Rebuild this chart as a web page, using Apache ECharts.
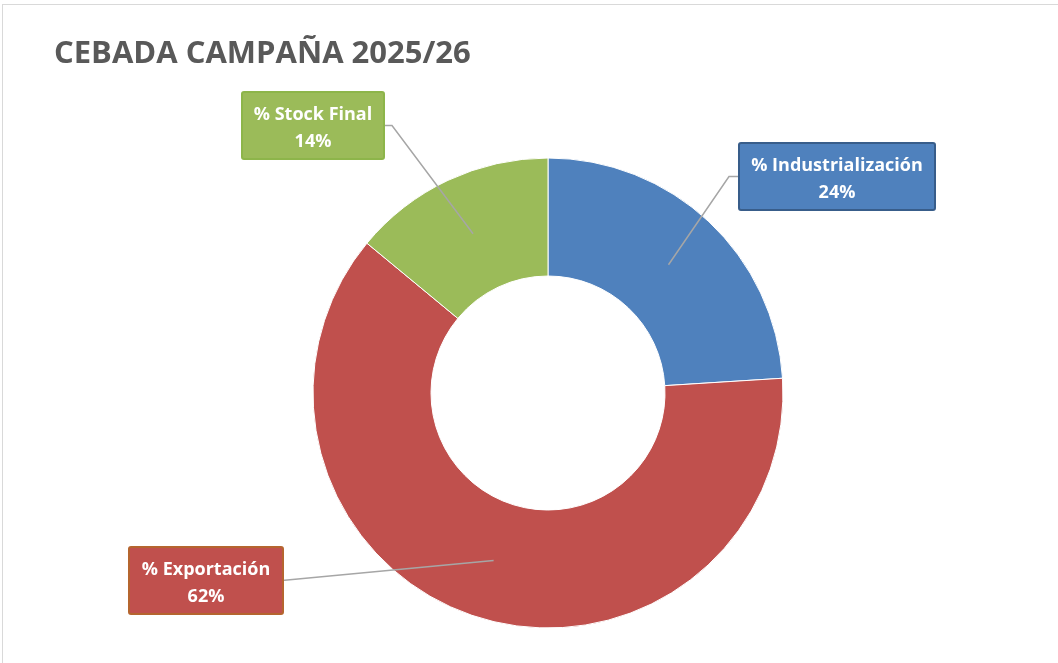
<!DOCTYPE html>
<html>
<head>
<meta charset="utf-8">
<script src="https://cdn.jsdelivr.net/npm/echarts@6/dist/echarts.min.js"></script>
<style>
html,body{margin:0;padding:0;background:#fff;}
#frame{position:absolute;left:2px;top:4px;width:1056px;height:659px;border-top:1px solid #D9D9D9;border-left:1px solid #D9D9D9;box-sizing:border-box;}
#chart{position:absolute;left:0;top:0;width:1058px;height:663px;}
</style>
</head>
<body>
<div id="frame"></div>
<div id="chart"></div>
<script>
const title = 'CEBADA CAMPAÑA 2025/26';
const categories = ['% Industrialización', '% Exportación', '% Stock Final'];
const values = [24, 62, 14];
const colors = ['#4F81BD', '#C0504D', '#9BBB59'];
const labelBorders = ['#385D8A', '#B5652F', '#8DB54A'];

// label box layout: [left, top, width(inner), side of connector]
const labelBoxes = [
  {x: 740, y: 144, w: 186, side: 'left'},
  {x: 130, y: 548, w: 144, side: 'right'},
  {x: 243, y: 93, w: 132, side: 'right'}
];
const BOX_H = 65;

const chart = echarts.init(document.getElementById('chart'));

const mainData = categories.map((c, i) => ({name: c, value: values[i], itemStyle: {color: colors[i]}}));
const labelData = categories.map((c, i) => ({
  name: c, value: values[i],
  label: {
    backgroundColor: colors[i],
    borderColor: labelBorders[i],
    width: labelBoxes[i].w
  }
}));

chart.setOption({
  animation: false,
  title: {
    text: title,
    left: 49, top: 34,
    textStyle: {fontFamily: 'Open Sans', fontWeight: 'bold', fontSize: 31, color: '#595959'}
  },
  series: [
    {
      type: 'pie',
      z: 1,
      center: [548, 393],
      radius: [117, 235],
      startAngle: 90,
      clockwise: true,
      silent: true,
      label: {show: false},
      labelLine: {show: false},
      itemStyle: {borderColor: '#fff', borderWidth: 1},
      data: mainData
    },
    {
      type: 'pie',
      z: 5,
      center: [548, 393],
      radius: [0, 176],
      startAngle: 90,
      clockwise: true,
      silent: true,
      itemStyle: {color: 'rgba(0,0,0,0)'},
      label: {
        show: true,
        position: 'outside',
        formatter: p => p.name + '\n' + p.value + '%',
        fontFamily: 'Open Sans',
        fontWeight: 'bold',
        fontSize: 18,
        lineHeight: 27,
        color: '#fff',
        align: 'center',
        borderWidth: 2,
        borderRadius: 1,
        padding: [8, 4, 3, 4]
      },
      labelLine: {show: true, length: 10, length2: 10, lineStyle: {color: '#A6A6A6', width: 1.5}},
      labelLayout: function (params) {
        const b = labelBoxes[params.dataIndex];
        const totalW = b.w + 8;
        const midY = b.y + BOX_H / 2;
        let edgeX, elbowX;
        if (b.side === 'left') { edgeX = b.x; elbowX = b.x - 11; }
        else { edgeX = b.x + totalW; elbowX = edgeX + (params.dataIndex === 1 ? 0 : 9); }
        const anchor = params.labelLinePoints ? params.labelLinePoints[0] : null;
        const res = {x: b.x + totalW / 2, y: b.y, align: 'center', verticalAlign: 'top'};
        if (anchor) res.labelLinePoints = [anchor, [elbowX, midY], [edgeX, midY]];
        return res;
      },
      data: labelData
    }
  ]
});
</script>
</body>
</html>
